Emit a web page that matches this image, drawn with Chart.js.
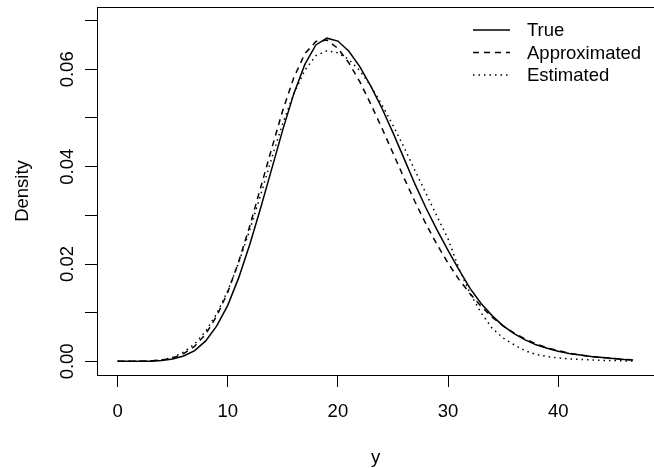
<!DOCTYPE html>
<html lang="en">
<head>
    <meta charset="UTF-8">
    <title>Density comparison</title>
    <script src="https://cdn.jsdelivr.net/npm/chart.js"></script>
    <style>
        html, body { margin: 0; padding: 0; background: #fff; }
        #wrap { width: 654px; height: 468px; }
    </style>
</head>
<body>
    <div id="wrap"><canvas id="densityChart" width="654" height="468"></canvas></div>

    <script>
// x grid of the density curves
const xValues = [0, 1, 2, 3, 4, 5, 6, 7, 8, 9, 10, 11, 12, 13, 14, 15, 16, 17, 18, 19, 20,
    21, 22, 23, 24, 25, 26, 27, 28, 29, 30, 31, 32, 33, 34, 35, 36, 37, 38, 39, 40,
    41, 42, 43, 44, 45, 46, 46.8];

// values
const trueDensity = [0, 0, 0.00001, 0.00005, 0.0002, 0.0005, 0.0011, 0.0022, 0.0042, 0.0073, 0.0115,
    0.0172, 0.0240, 0.0316, 0.0396, 0.0476, 0.0550, 0.0610, 0.0650, 0.0664, 0.0658,
    0.0637, 0.0605, 0.0565, 0.0520, 0.0470, 0.0417, 0.0364, 0.0315, 0.0270, 0.0228,
    0.0188, 0.0150, 0.0119, 0.0094, 0.0073, 0.0057, 0.0044, 0.0034, 0.0027, 0.0021,
    0.0016, 0.0013, 0.0010, 0.0008, 0.0006, 0.0004, 0.0003];

const approxDensity = [0, 0, 0.00001, 0.0001, 0.0003, 0.0007, 0.0016, 0.0031, 0.0056, 0.0093, 0.0142,
    0.0205, 0.0278, 0.0358, 0.0438, 0.0516, 0.0583, 0.0632, 0.0657, 0.0660, 0.0643,
    0.0613, 0.0574, 0.0528, 0.0479, 0.0428, 0.0377, 0.0328, 0.0282, 0.0240, 0.0202,
    0.0168, 0.0139, 0.0113, 0.0091, 0.0073, 0.0058, 0.0046, 0.0036, 0.0028, 0.0022,
    0.0017, 0.0013, 0.0010, 0.0008, 0.0006, 0.0004, 0.0003];

const estDensity = [0, 0, 0, 0.0001, 0.0003, 0.0008, 0.0019, 0.0036, 0.0062, 0.0098, 0.0145,
    0.0203, 0.0270, 0.0343, 0.0418, 0.0489, 0.0550, 0.0598, 0.0628, 0.0638, 0.0634,
    0.0620, 0.0597, 0.0565, 0.0527, 0.0485, 0.0440, 0.0392, 0.0345, 0.0298, 0.0252,
    0.0190, 0.0140, 0.0100, 0.0068, 0.0048, 0.0034, 0.0022, 0.0014, 0.0010, 0.0007,
    0.0005, 0.0004, 0.0003, 0.0002, 0.0002, 0.0001, 0.0001];

const xTicks = [0, 10, 20, 30, 40];
const yTicks = [0, 0.01, 0.02, 0.03, 0.04, 0.05, 0.06, 0.07];
const yLabelled = [0, 0.02, 0.04, 0.06];
const seriesNames = ['True', 'Approximated', 'Estimated'];

const FONT = 'Liberation Sans, Arial, Helvetica, sans-serif';
const FSIZE = 18.5;

function toPoints(ys) {
    return xValues.map((x, i) => ({ x: x, y: ys[i] }));
}

// box round the plot region + legend in the top right, R style
const boxAndLegend = {
    id: 'boxAndLegend',
    afterDraw(chart) {
        const ctx = chart.ctx;
        const a = chart.chartArea;
        ctx.save();
        ctx.strokeStyle = '#000';
        ctx.lineWidth = 1;
        ctx.strokeRect(Math.round(a.left) + 0.5, Math.round(a.top) + 0.5,
            Math.round(a.right - a.left), Math.round(a.bottom - a.top));

        const rows = [30, 52.5, 75];
        chart.data.datasets.forEach((ds, i) => {
            ctx.beginPath();
            ctx.strokeStyle = ds.borderColor;
            ctx.lineWidth = ds.borderWidth;
            ctx.setLineDash(ds.borderDash || []);
            ctx.moveTo(473, rows[i]);
            ctx.lineTo(510, rows[i]);
            ctx.stroke();
            ctx.setLineDash([]);
            ctx.fillStyle = '#000';
            ctx.font = FSIZE + 'px ' + FONT;
            ctx.textBaseline = 'middle';
            ctx.textAlign = 'left';
            ctx.fillText(ds.label, 527, rows[i] + 1);
        });
        ctx.restore();
    }
};

const ctx = document.getElementById('densityChart').getContext('2d');
new Chart(ctx, {
    type: 'line',
    data: {
        datasets: [
            {
                label: seriesNames[0],
                data: toPoints(trueDensity),
                borderColor: '#000',
                borderWidth: 1.5,
                pointRadius: 0,
                tension: 0,
                fill: false
            },
            {
                label: seriesNames[1],
                data: toPoints(approxDensity),
                borderColor: '#000',
                borderWidth: 1.5,
                borderDash: [6, 5],
                pointRadius: 0,
                tension: 0,
                fill: false
            },
            {
                label: seriesNames[2],
                data: toPoints(estDensity),
                borderColor: '#000',
                borderWidth: 1.5,
                borderDash: [1.5, 4],
                pointRadius: 0,
                tension: 0,
                fill: false
            }
        ]
    },
    options: {
        responsive: false,
        animation: false,
        layout: { padding: { top: 7, right: 0, left: 0, bottom: 0 } },
        plugins: {
            legend: { display: false },
            tooltip: { enabled: false }
        },
        scales: {
            x: {
                type: 'linear',
                min: -1.87,
                max: 48.7,
                afterBuildTicks: s => { s.ticks = xTicks.map(v => ({ value: v })); },
                afterFit: s => { s.height = 93; s.paddingLeft = 0; s.paddingRight = 0; },
                border: { display: false },
                grid: { drawOnChartArea: false, drawTicks: true, tickLength: 12, tickColor: '#000', tickWidth: 1 },
                ticks: {
                    color: '#000',
                    font: { family: FONT, size: FSIZE },
                    padding: 14,
                    maxRotation: 0,
                    autoSkip: false
                },
                title: {
                    display: true,
                    text: 'y',
                    color: '#000',
                    font: { family: FONT, size: FSIZE },
                    padding: { top: 0, bottom: -1 }
                }
            },
            y: {
                type: 'linear',
                min: -0.0028,
                max: 0.0728,
                afterBuildTicks: s => { s.ticks = yTicks.map(v => ({ value: v })); },
                afterFit: s => { s.width = 97; s.paddingTop = 0; s.paddingBottom = 0; },
                border: { display: false },
                grid: { drawOnChartArea: false, drawTicks: true, tickLength: 12, tickColor: '#000', tickWidth: 1 },
                ticks: {
                    color: '#000',
                    font: { family: FONT, size: FSIZE },
                    padding: -1,
                    crossAlign: 'center',
                    minRotation: 90,
                    maxRotation: 90,
                    autoSkip: false,
                    callback: v => yLabelled.some(t => Math.abs(t - v) < 1e-9) ? v.toFixed(2) : ''
                },
                title: {
                    display: true,
                    text: 'Density',
                    color: '#000',
                    font: { family: FONT, size: FSIZE },
                    padding: { top: 12, bottom: 0 }
                }
            }
        }
    },
    plugins: [boxAndLegend]
});
    </script>
</body>
</html>
